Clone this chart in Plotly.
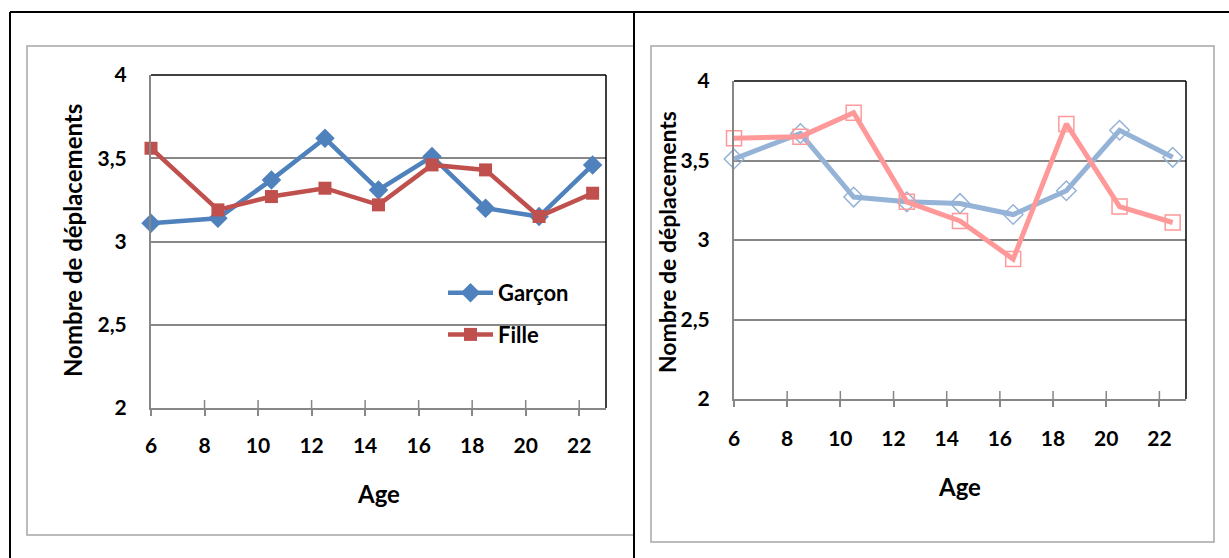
import plotly.graph_objects as go

# ---------------- data ----------------
ages = [6, 8.5, 10.5, 12.5, 14.5, 16.5, 18.5, 20.5, 22.5]

left_garcon = [3.11, 3.14, 3.37, 3.62, 3.31, 3.51, 3.20, 3.15, 3.46]
left_fille = [3.56, 3.19, 3.27, 3.32, 3.22, 3.46, 3.43, 3.15, 3.29]

right_garcon = [3.51, 3.67, 3.27, 3.24, 3.23, 3.16, 3.31, 3.69, 3.52]
right_fille = [3.64, 3.65, 3.80, 3.24, 3.12, 2.88, 3.73, 3.21, 3.11]

series_names = ["Garçon", "Fille"]

x_tick_vals = [6, 8, 10, 12, 14, 16, 18, 20, 22]
x_tick_text = ["6", "8", "10", "12", "14", "16", "18", "20", "22"]
y_tick_vals = [2, 2.5, 3, 3.5, 4]
y_tick_text = ["2", "2,5", "3", "3,5", "4"]

x_title = "Age"
y_title = "Nombre de déplacements"

# ---------------- layout helpers ----------------
W, H = 1229, 558
FONT = "Lato"
GRID = "#878787"


def px(x):
    return x / W


def py(y):
    return 1 - y / H


fig = go.Figure()

# left chart
fig.add_trace(go.Scatter(
    x=ages, y=left_garcon, name=series_names[0], mode="lines+markers",
    line=dict(color="#4F81BD", width=4.5),
    marker=dict(symbol="diamond", size=15, color="#4F81BD"),
    xaxis="x", yaxis="y", legendgroup="g", cliponaxis=False))
fig.add_trace(go.Scatter(
    x=ages, y=left_fille, name=series_names[1], mode="lines+markers",
    line=dict(color="#C0504D", width=4.5),
    marker=dict(symbol="square", size=13, color="#C0504D"),
    xaxis="x", yaxis="y", legendgroup="f", cliponaxis=False))

# right chart
fig.add_trace(go.Scatter(
    x=ages, y=right_garcon, name=series_names[0], mode="lines+markers",
    line=dict(color="#95B3D7", width=5),
    marker=dict(symbol="diamond-open", size=15, color="#95B3D7",
                line=dict(width=1.5, color="#95B3D7")),
    xaxis="x2", yaxis="y2", showlegend=False, cliponaxis=False))
fig.add_trace(go.Scatter(
    x=ages, y=right_fille, name=series_names[1], mode="lines+markers",
    line=dict(color="#FF9999", width=5),
    marker=dict(symbol="square-open", size=15, color="#FF9999",
                line=dict(width=1.5, color="#FF9999")),
    xaxis="x2", yaxis="y2", showlegend=False, cliponaxis=False))

tickfont = dict(family=FONT, size=21, color="black", weight="bold")

xaxis_common = dict(
    range=[6, 23], tickmode="array", tickvals=x_tick_vals, ticktext=x_tick_text,
    showgrid=False, zeroline=False, showline=True, linecolor=GRID, linewidth=2,
    ticks="outside", ticklen=6, tickwidth=1.5, tickcolor=GRID,
    tickfont=tickfont, fixedrange=True, automargin=False)
yaxis_common = dict(
    range=[2, 4], tickmode="array", tickvals=y_tick_vals, ticktext=y_tick_text,
    showgrid=True, gridcolor=GRID, gridwidth=1.5, zeroline=False,
    showline=True, linecolor=GRID, linewidth=2, ticks="",
    tickfont=tickfont, ticklabelstandoff=18, fixedrange=True, automargin=False)

fig.update_layout(
    width=W, height=H, autosize=False,
    margin=dict(l=0, r=0, t=0, b=0, pad=0),
    paper_bgcolor="white", plot_bgcolor="white",
    font=dict(family=FONT, color="black"),
    xaxis=dict(domain=[px(151), px(606)], anchor="y", ticklabelstandoff=12,
               **xaxis_common),
    yaxis=dict(domain=[py(408), py(75)], anchor="x", **yaxis_common),
    xaxis2=dict(domain=[px(734), px(1186)], anchor="y2", ticklabelstandoff=14,
                **xaxis_common),
    yaxis2=dict(domain=[py(399), py(81)], anchor="x2", **yaxis_common),
    showlegend=True,
    legend=dict(x=px(443), y=py(272), xanchor="left", yanchor="top",
                bgcolor="rgba(0,0,0,0)", borderwidth=0,
                font=dict(family=FONT, size=22, color="black", weight="bold"),
                tracegroupgap=10, itemwidth=45),
)

shapes = []
# outer table lines
shapes.append(dict(type="line", xref="paper", yref="paper", x0=px(10), x1=1,
                   y0=py(12), y1=py(12), line=dict(color="black", width=2)))
shapes.append(dict(type="line", xref="paper", yref="paper", x0=px(10), x1=px(10),
                   y0=py(12), y1=0, line=dict(color="black", width=2)))
# chart frames
shapes.append(dict(type="rect", xref="paper", yref="paper", x0=px(27), x1=px(634),
                   y0=py(535), y1=py(46), line=dict(color="#A6A6A6", width=1.5)))
shapes.append(dict(type="rect", xref="paper", yref="paper", x0=px(651), x1=px(1214),
                   y0=py(542), y1=py(46), line=dict(color="#A6A6A6", width=1.5)))
shapes.append(dict(type="line", xref="paper", yref="paper", x0=px(634), x1=px(634),
                   y0=py(12), y1=0, line=dict(color="black", width=2)))
# plot area top/right borders + inner half of the crossing x ticks
for xr, yr, plot_h in (("x", "y", 333), ("x2", "y2", 318)):
    shapes.append(dict(type="line", xref=f"{xr} domain", yref=f"{yr} domain",
                       x0=0, x1=1, y0=1, y1=1, line=dict(color="black", width=1.5)))
    shapes.append(dict(type="line", xref=f"{xr} domain", yref=f"{yr} domain",
                       x0=1, x1=1, y0=0, y1=1, line=dict(color="black", width=1.5)))
    for tv in x_tick_vals[1:]:
        shapes.append(dict(type="line", xref=xr, yref=f"{yr} domain",
                           x0=tv, x1=tv, y0=0, y1=8 / plot_h,
                           line=dict(color=GRID, width=1.5)))
fig.update_layout(shapes=shapes)

title_font = dict(family=FONT, size=24, color="black", weight="bold")
annotations = [
    dict(text=y_title, x=px(72), y=py(241), xref="paper", yref="paper",
         xanchor="center", yanchor="middle",
         textangle=-90, showarrow=False, font=title_font),
    dict(text=y_title, x=px(667), y=py(242), xref="paper", yref="paper",
         xanchor="center", yanchor="middle",
         textangle=-90, showarrow=False, font=dict(title_font, size=23)),
    dict(text=x_title, x=px(378), y=py(493), xref="paper", yref="paper",
         xanchor="center", yanchor="middle", showarrow=False, font=title_font),
    dict(text=x_title, x=px(959), y=py(486), xref="paper", yref="paper",
         xanchor="center", yanchor="middle", showarrow=False, font=title_font),
]
fig.update_layout(annotations=annotations)

fig.write_html(
    "out.html",
    config={"displayModeBar": False},
    post_script="document.body.style.margin='0';document.body.style.padding='0';"
                "document.body.style.overflow='hidden';",
)
